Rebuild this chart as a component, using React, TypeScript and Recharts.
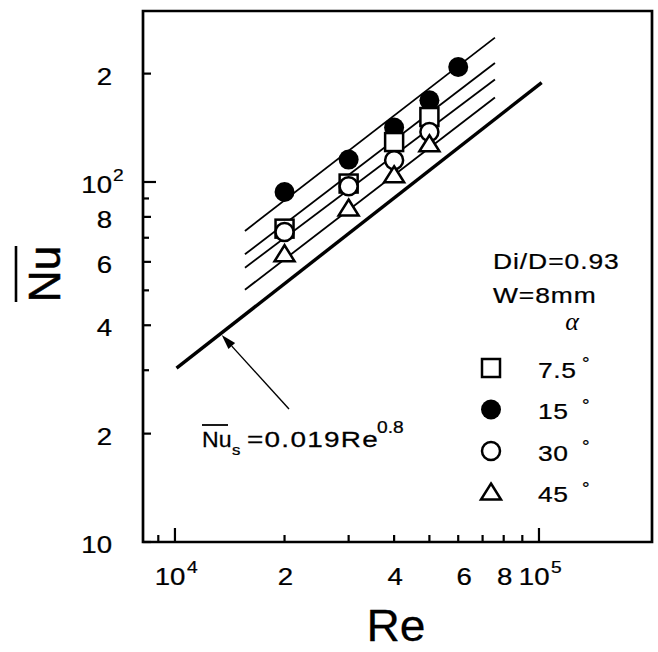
import React from 'react'
import {
  ComposedChart,
  Scatter,
  XAxis,
  YAxis,
  ReferenceArea,
  Customized,
} from 'recharts'

const FONT = '"Liberation Sans", Arial, Helvetica, sans-serif'

// Re of the measured points
const reMeasured = [20000, 30000, 40000, 50000]
const reMeasured15 = [20000, 30000, 40000, 50000, 60000]

// mean Nu for each inclination angle alpha
const nuAlpha7_5 = [74.2, 99.0, 129.1, 151.5]
const nuAlpha15 = [93.8, 115.4, 141.6, 168.6, 208.7]
const nuAlpha30 = [72.6, 97.3, 114.9, 137.7]
const nuAlpha45 = [63.0, 84.4, 104.4, 127.3]

// fitted lines through each set (end points)
const reFit = [15570, 75690]
const fitAlpha15 = [73.1, 251.8]
const fitAlpha7_5 = [63.0, 214.1]
const fitAlpha30 = [57.8, 192.5]
const fitAlpha45 = [50.2, 171.6]

// smooth tube, Nu_s = 0.019 Re^0.8 (end points as drawn)
const reSmooth = [10100, 101700]
const nuSmooth = [30.4, 188.8]

const reDomain = [8170, 204400]
const nuDomain = [10, 298.5]

const xTicks = [9000, 10000, 20000, 30000, 40000, 50000, 60000, 70000, 80000, 90000, 100000]
const xTickLabels: Record<number, string[]> = {
  10000: ['10', '4'],
  20000: ['2'],
  40000: ['4'],
  60000: ['6'],
  80000: ['8'],
  100000: ['10', '5'],
}
const yTicks = [10, 20, 30, 40, 50, 60, 70, 80, 90, 100, 200]
const yTickLabels: Record<number, string[]> = {
  10: ['10'],
  20: ['2'],
  40: ['4'],
  60: ['6'],
  80: ['8'],
  100: ['10', '2'],
  200: ['2'],
}

const legendLabels = ['7.5', '15', '30', '45']

const pts = (xs: number[], ys: number[]) => xs.map((re, i) => ({ re, nu: ys[i] }))

// the scan is a bit wide, so text gets stretched horizontally
function Txt({ x, y, size, anchor = 'start', sx = 1.2, children, ...rest }: any) {
  return (
    <text
      transform={`translate(${x},${y}) scale(${sx},1)`}
      fontSize={size}
      textAnchor={anchor}
      fontFamily={FONT}
      fill="#000"
      stroke="#000"
      strokeWidth={0.25}
      {...rest}
    >
      {children}
    </text>
  )
}

const Square = ({ cx, cy }: any) => (
  <rect x={cx - 9} y={cy - 9} width={18} height={18} fill="#fff" stroke="#000" strokeWidth={2.5} />
)
const Dot = ({ cx, cy }: any) => <circle cx={cx} cy={cy} r={10} fill="#000" />
const Ring = ({ cx, cy }: any) => (
  <circle cx={cx} cy={cy} r={9} fill="#fff" stroke="#000" strokeWidth={2.5} />
)
const Tri = ({ cx, cy }: any) => (
  <path
    d={`M${cx},${cy - 9}L${cx + 10},${cy + 7}L${cx - 10},${cy + 7}Z`}
    fill="#fff"
    stroke="#000"
    strokeWidth={2.5}
    strokeLinejoin="miter"
  />
)
const NoDot = () => <g />

const legendShapes = [Square, Dot, Ring, Tri]

function XTick(props: any) {
  const { x, y, payload } = props
  const v = payload.value
  const lab = xTickLabels[v]
  const len = v === 10000 || v === 100000 ? 14 : 7
  return (
    <g>
      <line x1={x} x2={x} y1={y} y2={y - len} stroke="#000" strokeWidth={2.2} />
      {lab && lab.length === 2 && (
        <>
          <Txt x={x + 10.5} y={y + 43} size={23} anchor="end">{lab[0]}</Txt>
          <Txt x={x + 12} y={y + 31} size={16}>{lab[1]}</Txt>
        </>
      )}
      {lab && lab.length === 1 && (
        <Txt x={x + (v === 60000 ? 6 : 1)} y={y + 43} size={23} anchor="middle">{lab[0]}</Txt>
      )}
    </g>
  )
}

function YTick(props: any) {
  const { x, y, payload } = props
  const v = payload.value
  const lab = yTickLabels[v]
  const len = v === 100 ? 13 : lab ? 8 : 6
  return (
    <g>
      <line x1={x} x2={x + len} y1={y} y2={y} stroke="#000" strokeWidth={2.2} />
      {lab && <Txt x={x - 31} y={y + 11} size={23} anchor="end">{lab[0]}</Txt>}
      {lab && lab[1] && <Txt x={x - 30} y={y - 1} size={16}>{lab[1]}</Txt>}
    </g>
  )
}

function Annotations() {
  const tail = [289, 409]
  const tip = [221.7, 335]
  const dx = tip[0] - tail[0]
  const dy = tip[1] - tail[1]
  const d = Math.hypot(dx, dy)
  const ux = dx / d
  const uy = dy / d
  const bx = tip[0] - 15 * ux
  const by = tip[1] - 15 * uy
  const head = `M${tip[0]},${tip[1]}L${bx - 4.5 * uy},${by + 4.5 * ux}L${bx + 4.5 * uy},${by - 4.5 * ux}Z`

  return (
    <g>
      {/* axis titles */}
      <text
        transform="translate(60,274) rotate(-90)"
        fontSize={44}
        textAnchor="middle"
        fontFamily={FONT}
        fill="#000"
        stroke="#000"
        strokeWidth={0.5}
      >
        Nu
      </text>
      <line x1={16} x2={16} y1={246} y2={302} stroke="#000" strokeWidth={2.6} />
      <Txt x={396} y={641} size={44} anchor="middle" sx={1.05}>Re</Txt>

      {/* conditions */}
      <Txt x={493} y={269} size={22} letterSpacing={0.8}>Di/D=0.93</Txt>
      <Txt x={493} y={303} size={22} letterSpacing={0.8}>W=8mm</Txt>
      <text x={572} y={330} fontSize={26} fontStyle="italic" textAnchor="middle" fontFamily='"Liberation Serif", serif'>
        α
      </text>

      {/* legend */}
      {legendLabels.map((lab, i) => {
        const cy = 368 + i * 41.5
        const Shape = legendShapes[i]
        return (
          <g key={lab}>
            {Shape({ cx: 491, cy })}
            <Txt x={538} y={cy + 9.5} size={22} letterSpacing={0.5}>{lab}</Txt>
            <Txt x={582} y={cy + 2} size={19} sx={1}>°</Txt>
          </g>
        )
      })}

      {/* correlation label and arrow */}
      <line x1={tail[0]} y1={tail[1]} x2={bx} y2={by} stroke="#000" strokeWidth={1.4} />
      <path d={head} fill="#000" />
      <Txt x={202} y={447} size={22} sx={1.05}>Nu</Txt>
      <line x1={202} x2={228} y1={425} y2={425} stroke="#000" strokeWidth={1.8} />
      <Txt x={232} y={455} size={14}>s</Txt>
      <Txt x={247} y={447} size={22} sx={1.27} letterSpacing={1}>=0.019Re</Txt>
      <Txt x={377} y={433} size={16} sx={1.2}>0.8</Txt>
    </g>
  )
}

export default function App() {
  return (
    <div style={{ position: 'absolute', left: 0, top: 0, background: '#fff' }}>
      <ComposedChart width={658} height={652} margin={{ top: 11, right: 6, bottom: 0, left: 0 }}>
        <XAxis
          dataKey="re"
          type="number"
          scale="log"
          domain={reDomain}
          allowDataOverflow
          ticks={xTicks}
          interval={0}
          tick={XTick}
          tickLine={false}
          tickSize={0}
          tickMargin={0}
          axisLine={false}
          height={110}
        />
        <YAxis
          dataKey="nu"
          type="number"
          scale="log"
          domain={nuDomain}
          allowDataOverflow
          ticks={yTicks}
          interval={0}
          tick={YTick}
          tickLine={false}
          tickSize={0}
          tickMargin={0}
          axisLine={false}
          width={143}
        />
        <ReferenceArea
          x1={reDomain[0]}
          x2={reDomain[1]}
          y1={nuDomain[0]}
          y2={nuDomain[1]}
          fill="none"
          stroke="#000"
          strokeWidth={2.7}
        />

        <Scatter data={pts(reSmooth, nuSmooth)} line={{ stroke: '#000', strokeWidth: 3.4 }} shape={NoDot} isAnimationActive={false} />
        <Scatter data={pts(reFit, fitAlpha15)} line={{ stroke: '#000', strokeWidth: 1.8 }} shape={NoDot} isAnimationActive={false} />
        <Scatter data={pts(reFit, fitAlpha7_5)} line={{ stroke: '#000', strokeWidth: 1.8 }} shape={NoDot} isAnimationActive={false} />
        <Scatter data={pts(reFit, fitAlpha30)} line={{ stroke: '#000', strokeWidth: 1.8 }} shape={NoDot} isAnimationActive={false} />
        <Scatter data={pts(reFit, fitAlpha45)} line={{ stroke: '#000', strokeWidth: 1.8 }} shape={NoDot} isAnimationActive={false} />

        <Scatter name="15" data={pts(reMeasured15, nuAlpha15)} shape={Dot} isAnimationActive={false} />
        <Scatter name="7.5" data={pts(reMeasured, nuAlpha7_5)} shape={Square} isAnimationActive={false} />
        <Scatter name="30" data={pts(reMeasured, nuAlpha30)} shape={Ring} isAnimationActive={false} />
        <Scatter name="45" data={pts(reMeasured, nuAlpha45)} shape={Tri} isAnimationActive={false} />

        <Customized component={Annotations} />
      </ComposedChart>
    </div>
  )
}
